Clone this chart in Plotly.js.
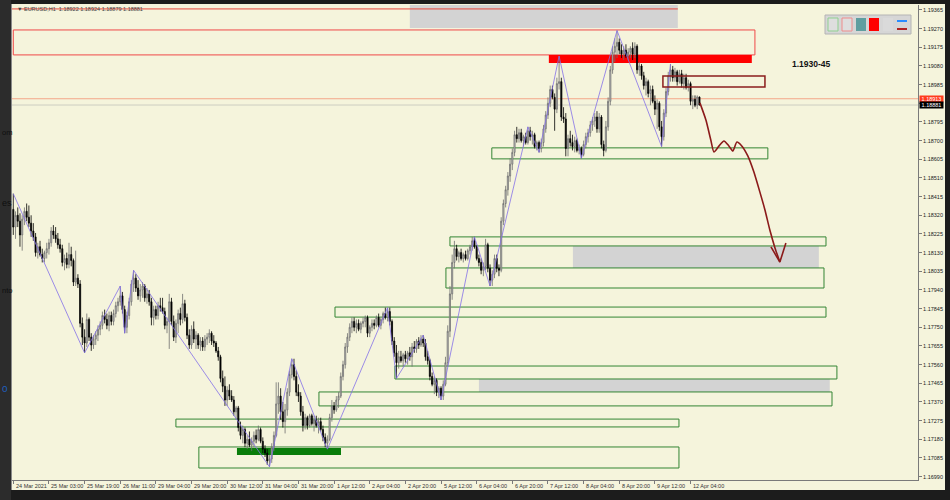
<!DOCTYPE html>
<html><head><meta charset="utf-8">
<script src="https://cdn.plot.ly/plotly-3.0.1.min.js"></script>
<style>html,body{margin:0;padding:0;background:#1c1c1c;}#chart{width:950px;height:500px;}</style>
</head><body><div id="chart"></div>
<script>
// ---- data (EURUSD H1) ----
const timeLabels = ["24 Mar 2021","25 Mar 03:00","25 Mar 19:00","26 Mar 11:00","29 Mar 04:00","29 Mar 20:00","30 Mar 12:00","31 Mar 04:00","31 Mar 20:00","1 Apr 12:00","2 Apr 04:00","2 Apr 20:00","5 Apr 12:00","6 Apr 04:00","6 Apr 20:00","7 Apr 12:00","8 Apr 04:00","8 Apr 20:00","9 Apr 12:00","12 Apr 04:00"];
const barsPerLabel = 16;
const priceTicks = [1.19365,1.19270,1.19175,1.19080,1.18985,1.18890,1.18795,1.18700,1.18605,1.18510,1.18415,1.18320,1.18225,1.18130,1.18035,1.17940,1.17845,1.17750,1.17655,1.17560,1.17465,1.17370,1.17275,1.17180,1.17085,1.16990];

const open = [
1.1835,1.1826,1.1832,1.1829,1.1822,1.1830,1.1834,1.1831,1.1828,1.1824,
1.1821,1.1813,1.1816,1.1812,1.1810,1.1813,1.1815,1.1818,1.1824,1.1822,
1.1820,1.1817,1.1815,1.1808,1.1810,1.1807,1.1812,1.1809,1.1798,1.1800,
1.1797,1.1777,1.1770,1.1767,1.1779,1.1770,1.1766,1.1769,1.1771,1.1774,
1.1776,1.1781,1.1779,1.1776,1.1781,1.1778,1.1782,1.1786,1.1788,1.1791,
1.1784,1.1775,1.1781,1.1788,1.1797,1.1800,1.1795,1.1791,1.1794,1.1796,
1.1790,1.1792,1.1788,1.1780,1.1784,1.1781,1.1786,1.1785,1.1783,1.1776,
1.1778,1.1788,1.1778,1.1770,1.1777,1.1782,1.1779,1.1787,1.1780,1.1771,
1.1766,1.1774,1.1769,1.1771,1.1766,1.1768,1.1765,1.1769,1.1770,1.1772,
1.1768,1.1767,1.1763,1.1760,1.1749,1.1745,1.1738,1.1743,1.1740,1.1738,
1.1732,1.1734,1.1724,1.1720,1.1723,1.1716,1.1718,1.1715,1.1717,1.1720,
1.1718,1.1723,1.1717,1.1713,1.1711,1.1707,1.1708,1.1714,1.1720,1.1736,
1.1740,1.1732,1.1727,1.1733,1.1742,1.1751,1.1756,1.1750,1.1742,1.1740,
1.1732,1.1725,1.1729,1.1725,1.1730,1.1726,1.1728,1.1725,1.1727,1.1723,
1.1719,1.1716,1.1718,1.1729,1.1735,1.1733,1.1738,1.1740,1.1750,1.1756,
1.1765,1.1770,1.1775,1.1778,1.1775,1.1777,1.1774,1.1777,1.1778,1.1780,
1.1772,1.1775,1.1777,1.1776,1.1780,1.1776,1.1779,1.1782,1.1780,1.1783,
1.1778,1.1768,1.1762,1.1757,1.1760,1.1758,1.1761,1.1759,1.1762,1.1760,
1.1765,1.1764,1.1768,1.1766,1.1769,1.1767,1.1760,1.1758,1.1750,1.1746,
1.1748,1.1742,1.1744,1.1740,1.1746,1.1757,1.1773,1.1792,1.1808,1.1815,
1.1811,1.1813,1.1810,1.1812,1.1810,1.1814,1.1816,1.1819,1.1816,1.1810,
1.1808,1.1804,1.1806,1.1817,1.1805,1.1799,1.1802,1.1810,1.1805,1.1804,
1.1829,1.1838,1.1845,1.1852,1.1858,1.1864,1.1873,1.1871,1.1874,1.1870,
1.1872,1.1869,1.1875,1.1872,1.1873,1.1867,1.1869,1.1866,1.1869,1.1876,
1.1883,1.1889,1.1896,1.1892,1.1886,1.1899,1.1900,1.1882,1.1881,1.1866,
1.1871,1.1869,1.1867,1.1870,1.1865,1.1866,1.1863,1.1868,1.1872,1.1874,
1.1878,1.1880,1.1882,1.1876,1.1882,1.1868,1.1865,1.1877,1.1890,1.1906,
1.1915,1.1918,1.1920,1.1916,1.1914,1.1916,1.1913,1.1915,1.1917,1.1914,
1.1918,1.1906,1.1908,1.1903,1.1898,1.1900,1.1894,1.1896,1.1890,1.1886,
1.1889,1.1877,1.1872,1.1884,1.1895,1.1903,1.1906,1.1902,1.1905,1.1900,
1.1904,1.1899,1.1902,1.1897,1.1899,1.1890,1.1891,1.1888,1.18922];

const high = [
1.1843,1.1834,1.1836,1.1833,1.1832,1.1836,1.1838,1.1837,1.1832,1.1828,
1.1823,1.1818,1.1819,1.1815,1.1814,1.1818,1.1820,1.1826,1.1827,1.1826,
1.1823,1.1820,1.1817,1.1812,1.1813,1.1818,1.1816,1.1810,1.1814,1.1802,
1.1799,1.1780,1.1774,1.1782,1.1780,1.1772,1.1771,1.1773,1.1776,1.1778,
1.1783,1.1784,1.1782,1.1783,1.1783,1.1784,1.1788,1.1790,1.1796,1.1793,
1.1786,1.1783,1.1790,1.1799,1.1804,1.1802,1.1799,1.1797,1.1798,1.1797,
1.1795,1.1794,1.1790,1.1786,1.1786,1.1788,1.1790,1.1790,1.1785,1.1780,
1.1792,1.1790,1.1781,1.1779,1.1784,1.1785,1.1792,1.1789,1.1782,1.1774,
1.1776,1.1778,1.1773,1.1772,1.1770,1.1770,1.1771,1.1772,1.1774,1.1773,
1.1771,1.1768,1.1765,1.1761,1.1753,1.1750,1.1745,1.1746,1.1743,1.1740,
1.1735,1.1735,1.1727,1.1725,1.1724,1.1720,1.1722,1.1719,1.1722,1.1723,
1.1725,1.1724,1.1719,1.1715,1.1713,1.1710,1.1716,1.1722,1.1747,1.1747,
1.1744,1.1737,1.1736,1.1744,1.1753,1.1759,1.1759,1.1753,1.1746,1.1742,
1.1735,1.1731,1.1730,1.1731,1.1731,1.1730,1.1730,1.1729,1.1729,1.1725,
1.1721,1.1720,1.1731,1.1738,1.1737,1.1740,1.1742,1.1752,1.1758,1.1767,
1.1772,1.1777,1.1780,1.1780,1.1779,1.1779,1.1778,1.1780,1.1781,1.1781,
1.1776,1.1779,1.1779,1.1781,1.1782,1.1780,1.1783,1.1785,1.1785,1.1785,
1.1779,1.1770,1.1766,1.1763,1.1763,1.1762,1.1763,1.1763,1.1765,1.1767,
1.1768,1.1769,1.1770,1.1771,1.1771,1.1769,1.1763,1.1759,1.1752,1.1750,
1.1749,1.1745,1.1745,1.1748,1.1760,1.1776,1.1796,1.1812,1.1819,1.1817,
1.1814,1.1815,1.1813,1.1814,1.1815,1.1817,1.1821,1.1821,1.1817,1.1812,
1.1810,1.1808,1.1820,1.1818,1.1807,1.1804,1.1812,1.1812,1.1807,1.1831,
1.1840,1.1847,1.1854,1.1861,1.1866,1.1875,1.1877,1.1876,1.1876,1.1873,
1.1874,1.1877,1.1877,1.1875,1.1874,1.1870,1.1870,1.1871,1.1878,1.1885,
1.1892,1.1898,1.1898,1.1894,1.1902,1.1913,1.1902,1.1887,1.1884,1.1873,
1.1875,1.1873,1.1872,1.1871,1.1868,1.1867,1.1870,1.1874,1.1876,1.1880,
1.1882,1.1884,1.1885,1.1884,1.1883,1.1870,1.1880,1.1892,1.1908,1.1918,
1.1922,1.1926,1.1922,1.1919,1.1918,1.1919,1.1917,1.1918,1.1920,1.1920,
1.1919,1.1910,1.1909,1.1905,1.1902,1.1901,1.1898,1.1898,1.1893,1.1891,
1.1890,1.1880,1.1886,1.1897,1.1905,1.1909,1.1908,1.1907,1.1906,1.1906,
1.1906,1.1904,1.1904,1.1901,1.1900,1.1893,1.1893,1.1893,1.18924];

const low = [
1.1822,1.1820,1.1826,1.1816,1.1814,1.1827,1.1829,1.1826,1.1821,1.1819,
1.1811,1.1810,1.1811,1.1808,1.1808,1.1810,1.1812,1.1816,1.1820,1.1818,
1.1815,1.1813,1.1806,1.1804,1.1805,1.1805,1.1806,1.1796,1.1796,1.1795,
1.1775,1.1766,1.1762,1.1765,1.1768,1.1763,1.1764,1.1766,1.1768,1.1771,
1.1774,1.1777,1.1774,1.1773,1.1776,1.1776,1.1780,1.1783,1.1786,1.1782,
1.1772,1.1772,1.1779,1.1786,1.1793,1.1793,1.1789,1.1788,1.1790,1.1788,
1.1787,1.1786,1.1776,1.1776,1.1779,1.1779,1.1783,1.1782,1.1774,1.1772,
1.1764,1.1776,1.1768,1.1767,1.1772,1.1776,1.1777,1.1778,1.1769,1.1764,
1.1764,1.1767,1.1764,1.1764,1.1763,1.1763,1.1763,1.1766,1.1767,1.1766,
1.1765,1.1762,1.1758,1.1747,1.1742,1.1735,1.1735,1.1738,1.1737,1.1730,
1.1728,1.1722,1.1718,1.1716,1.1714,1.1713,1.1714,1.1712,1.1714,1.1716,
1.1717,1.1716,1.1711,1.1709,1.1705,1.1704,1.1706,1.1712,1.1719,1.1731,
1.1728,1.1724,1.1721,1.1730,1.1740,1.1749,1.1748,1.1740,1.1737,1.1730,
1.1722,1.1723,1.1723,1.1724,1.1725,1.1722,1.1724,1.1721,1.1722,1.1717,
1.1714,1.1713,1.1717,1.1727,1.1731,1.1732,1.1734,1.1739,1.1748,1.1754,
1.1762,1.1768,1.1772,1.1773,1.1772,1.1773,1.1772,1.1775,1.1775,1.1770,
1.1770,1.1773,1.1774,1.1775,1.1775,1.1774,1.1777,1.1779,1.1778,1.1776,
1.1766,1.1760,1.1749,1.1754,1.1757,1.1755,1.1757,1.1756,1.1758,1.1755,
1.1762,1.1762,1.1764,1.1765,1.1765,1.1758,1.1756,1.1748,1.1745,1.1741,
1.1740,1.1739,1.1738,1.1738,1.1745,1.1755,1.1770,1.1789,1.1805,1.1809,
1.1808,1.1809,1.1808,1.1809,1.1809,1.1812,1.1814,1.1815,1.1809,1.1806,
1.1802,1.1801,1.1804,1.1803,1.1796,1.1796,1.1800,1.1803,1.1801,1.1803,
1.1827,1.1836,1.1842,1.1849,1.1855,1.1862,1.1869,1.1869,1.1869,1.1867,
1.1868,1.1868,1.1870,1.1868,1.1866,1.1865,1.1864,1.1864,1.1867,1.1874,
1.1881,1.1887,1.1891,1.1875,1.1884,1.1896,1.1880,1.1879,1.1862,1.1862,
1.1867,1.1865,1.1864,1.1864,1.1863,1.1861,1.1862,1.1866,1.1869,1.1872,
1.1875,1.1877,1.1874,1.1874,1.1866,1.1862,1.1864,1.1875,1.1888,1.1904,
1.1910,1.1912,1.1914,1.1912,1.1911,1.1912,1.1911,1.1912,1.1911,1.1912,
1.1904,1.1903,1.1901,1.1896,1.1893,1.1892,1.1888,1.1889,1.1883,1.1876,
1.1875,1.1867,1.1870,1.1882,1.1893,1.1900,1.1900,1.1900,1.1898,1.1899,
1.1897,1.1896,1.1896,1.1895,1.1888,1.1886,1.1887,1.1886,1.18879];

const close = [
1.1826,1.1832,1.1829,1.1822,1.1830,1.1834,1.1831,1.1828,1.1824,1.1821,
1.1813,1.1816,1.1812,1.1810,1.1813,1.1815,1.1818,1.1824,1.1822,1.1820,
1.1817,1.1815,1.1808,1.1810,1.1807,1.1812,1.1809,1.1798,1.1800,1.1797,
1.1777,1.1770,1.1767,1.1779,1.1770,1.1766,1.1769,1.1771,1.1774,1.1776,
1.1781,1.1779,1.1776,1.1781,1.1778,1.1782,1.1786,1.1788,1.1791,1.1784,
1.1775,1.1781,1.1788,1.1797,1.1800,1.1795,1.1791,1.1794,1.1796,1.1790,
1.1792,1.1788,1.1780,1.1784,1.1781,1.1786,1.1785,1.1783,1.1776,1.1778,
1.1788,1.1778,1.1770,1.1777,1.1782,1.1779,1.1787,1.1780,1.1771,1.1766,
1.1774,1.1769,1.1771,1.1766,1.1768,1.1765,1.1769,1.1770,1.1772,1.1768,
1.1767,1.1763,1.1760,1.1749,1.1745,1.1738,1.1743,1.1740,1.1738,1.1732,
1.1734,1.1724,1.1720,1.1723,1.1716,1.1718,1.1715,1.1717,1.1720,1.1718,
1.1723,1.1717,1.1713,1.1711,1.1707,1.1708,1.1714,1.1720,1.1736,1.1740,
1.1732,1.1727,1.1733,1.1742,1.1751,1.1756,1.1750,1.1742,1.1740,1.1732,
1.1725,1.1729,1.1725,1.1730,1.1726,1.1728,1.1725,1.1727,1.1723,1.1719,
1.1716,1.1718,1.1729,1.1735,1.1733,1.1738,1.1740,1.1750,1.1756,1.1765,
1.1770,1.1775,1.1778,1.1775,1.1777,1.1774,1.1777,1.1778,1.1780,1.1772,
1.1775,1.1777,1.1776,1.1780,1.1776,1.1779,1.1782,1.1780,1.1783,1.1778,
1.1768,1.1762,1.1757,1.1760,1.1758,1.1761,1.1759,1.1762,1.1760,1.1765,
1.1764,1.1768,1.1766,1.1769,1.1767,1.1760,1.1758,1.1750,1.1746,1.1748,
1.1742,1.1744,1.1740,1.1746,1.1757,1.1773,1.1792,1.1808,1.1815,1.1811,
1.1813,1.1810,1.1812,1.1810,1.1814,1.1816,1.1819,1.1816,1.1810,1.1808,
1.1804,1.1806,1.1817,1.1805,1.1799,1.1802,1.1810,1.1805,1.1804,1.1829,
1.1838,1.1845,1.1852,1.1858,1.1864,1.1873,1.1871,1.1874,1.1870,1.1872,
1.1869,1.1875,1.1872,1.1873,1.1867,1.1869,1.1866,1.1869,1.1876,1.1883,
1.1889,1.1896,1.1892,1.1886,1.1899,1.1900,1.1882,1.1881,1.1866,1.1871,
1.1869,1.1867,1.1870,1.1865,1.1866,1.1863,1.1868,1.1872,1.1874,1.1878,
1.1880,1.1882,1.1876,1.1882,1.1868,1.1865,1.1877,1.1890,1.1906,1.1915,
1.1918,1.1920,1.1916,1.1914,1.1916,1.1913,1.1915,1.1917,1.1914,1.1918,
1.1906,1.1908,1.1903,1.1898,1.1900,1.1894,1.1896,1.1890,1.1886,1.1889,
1.1877,1.1872,1.1884,1.1895,1.1903,1.1906,1.1902,1.1905,1.1900,1.1904,
1.1899,1.1902,1.1897,1.1899,1.1890,1.1891,1.1888,1.18922,1.18881];

// zigzag pivots (bar index, price)
const zigzagBar   = [0, 32, 48, 50, 54, 115, 125, 141, 168, 172, 184, 192, 207, 214, 231, 236, 245, 255, 271, 291, 295];
const zigzagPrice = [1.1843,1.1762,1.1796,1.1772,1.1804,1.1704,1.1759,1.1713,1.1785,1.1749,1.1771,1.1738,1.1821,1.1796,1.1877,1.1864,1.1913,1.1861,1.1926,1.1867,1.1909];

// hand-drawn projection arrow
const arrowBar   = [308.2,310.9,313.1,314.5,316.8,319.0,321.2,323.0,324.8,327.0,329.7,332.4,335.1,337.4,339.6,341.9,344.1];
const arrowPrice = [1.18892,1.18805,1.18703,1.18642,1.18673,1.18698,1.18673,1.18647,1.18693,1.18673,1.18622,1.18541,1.18439,1.18347,1.18245,1.18154,1.18082];
const arrowHeadBar = [340.1,344.1,346.8];
const arrowHeadPrice = [1.18159,1.18082,1.18179];

// zones: [fromBar, toBar, lowPrice, highPrice]
const greenZones = [
 [214.8,338.7,1.18607,1.18663],
 [196.0,364.8,1.18164,1.18210],
 [194.2,363.9,1.17950,1.18052],
 [144.4,364.8,1.17802,1.17853],
 [171.3,369.7,1.17487,1.17553],
 [137.2,367.5,1.17350,1.17421],
 [73.0,298.8,1.17243,1.17283],
 [83.3,298.8,1.17034,1.17141]];
const grayZones = [
 [178.0,298.3,1.19273,1.19450],
 [251.2,361.6,1.18052,1.18164],
 [209.0,366.5,1.17421,1.17487]];
const greenFill = [100.4,147.1,1.17100,1.17136];
const redOutline = [0,332.9,1.19136,1.19263];
const redFill = [240.4,331.5,1.19095,1.19136];
const darkRedBox = [291.6,337.4,1.18973,1.19029];
const topRedLevel = [-1,298.3,1.19370];
const askPrice = 1.18913, bidPrice = 1.18881;
const headerText = "▼ EURUSD,H1  1.18922 1.18924 1.18879 1.18881";
const noteText = "1.1930-45";

// ---- layout helpers (pixel -> paper) ----
const L=12, R=918, T=5, B=480;
const PX = px => (px - L) / (R - L);
const PY = py => (B - py) / (B - T);
const bars = close.map((_, i) => i);
const FONT = "Liberation Sans, Arial, sans-serif";

const shapes = [];
// background page strip at the left and chart window panel
shapes.push({type:'rect', xref:'paper', yref:'paper', x0:PX(0), x1:PX(11), y0:PY(500), y1:PY(0), fillcolor:'#2c2c2c', line:{width:0}, layer:'below'});
shapes.push({type:'rect', xref:'paper', yref:'paper', x0:PX(12), x1:PX(945), y0:PY(490), y1:PY(4), fillcolor:'#f5f4dc', line:{width:0}, layer:'below'});
shapes.push({type:'line', xref:'paper', yref:'paper', x0:PX(11.5), x1:PX(11.5), y0:PY(490), y1:PY(4), line:{color:'#8a8a8a', width:1}, layer:'below'});

grayZones.forEach(z => shapes.push({type:'rect', xref:'x', yref:'y', x0:z[0], x1:z[1], y0:z[2], y1:z[3], fillcolor:'#d3d3d3', line:{width:0}, layer:'below'}));
shapes.push({type:'line', xref:'x', yref:'y', x0:topRedLevel[0], x1:topRedLevel[1], y0:topRedLevel[2], y1:topRedLevel[2], line:{color:'#e8463c', width:1}, layer:'below'});
shapes.push({type:'rect', xref:'x', yref:'y', x0:redOutline[0], x1:redOutline[1], y0:redOutline[2], y1:redOutline[3], fillcolor:'rgba(0,0,0,0)', line:{color:'#f04848', width:1}, layer:'below'});
shapes.push({type:'rect', xref:'x', yref:'y', x0:redFill[0], x1:redFill[1], y0:redFill[2], y1:redFill[3], fillcolor:'#ff0000', line:{width:0}, layer:'below'});
shapes.push({type:'line', xref:'paper', yref:'y', x0:0, x1:1, y0:askPrice, y1:askPrice, line:{color:'#f3a68a', width:1}, layer:'below'});
shapes.push({type:'line', xref:'paper', yref:'y', x0:0, x1:1, y0:bidPrice, y1:bidPrice, line:{color:'#cdcdc2', width:1}, layer:'below'});
shapes.push({type:'rect', xref:'x', yref:'y', x0:greenFill[0], x1:greenFill[1], y0:greenFill[2], y1:greenFill[3], fillcolor:'#0a7d0a', line:{width:0}, layer:'below'});
greenZones.forEach(z => shapes.push({type:'rect', xref:'x', yref:'y', x0:z[0], x1:z[1], y0:z[2], y1:z[3], fillcolor:'rgba(0,0,0,0)', line:{color:'#338533', width:1}, layer:'below'}));
shapes.push({type:'rect', xref:'x', yref:'y', x0:darkRedBox[0], x1:darkRedBox[1], y0:darkRedBox[2], y1:darkRedBox[3], fillcolor:'rgba(0,0,0,0)', line:{color:'#8b1c1c', width:1.5}, layer:'above'});

// toolbar top right
shapes.push({type:'rect', xref:'paper', yref:'paper', x0:PX(825), x1:PX(911), y0:PY(34), y1:PY(15), fillcolor:'#d6d6d6', line:{color:'#b4b4b4', width:1}});
shapes.push({type:'rect', xref:'paper', yref:'paper', x0:PX(828), x1:PX(838), y0:PY(31), y1:PY(18), fillcolor:'#dedede', line:{color:'#8fd08f', width:1}});
shapes.push({type:'rect', xref:'paper', yref:'paper', x0:PX(842), x1:PX(852), y0:PY(31), y1:PY(18), fillcolor:'#dedede', line:{color:'#f08c8c', width:1}});
shapes.push({type:'rect', xref:'paper', yref:'paper', x0:PX(856), x1:PX(866), y0:PY(31), y1:PY(18), fillcolor:'#5f9ea0', line:{width:0}});
shapes.push({type:'rect', xref:'paper', yref:'paper', x0:PX(869), x1:PX(879), y0:PY(31), y1:PY(18), fillcolor:'#ff0000', line:{width:0}});
shapes.push({type:'rect', xref:'paper', yref:'paper', x0:PX(883), x1:PX(893), y0:PY(31), y1:PY(18), fillcolor:'#dadada', line:{width:0}});
shapes.push({type:'line', xref:'paper', yref:'paper', x0:PX(897), x1:PX(907), y0:PY(21), y1:PY(21), line:{color:'#2a8cff', width:2}});
shapes.push({type:'line', xref:'paper', yref:'paper', x0:PX(897), x1:PX(907), y0:PY(29), y1:PY(29), line:{color:'#b22222', width:2}});

const annotations = [];
timeLabels.forEach((t, i) => annotations.push({xref:'x', yref:'paper', x:i*barsPerLabel, y:0, xanchor:'left', yanchor:'top', xshift:0.5, yshift:-1, text:t, showarrow:false, font:{family:FONT, size:5.5, color:'#333'}}));
annotations.push({xref:'paper', yref:'paper', x:PX(15), y:PY(9), xanchor:'left', yanchor:'middle', text:headerText, showarrow:false, font:{family:FONT, size:5.5, color:'#444'}});
annotations.push({xref:'paper', yref:'paper', x:PX(790), y:PY(64), xanchor:'left', yanchor:'middle', text:'<b>'+noteText+'</b>', showarrow:false, font:{family:FONT, size:8.5, color:'#111'}});
annotations.push({xref:'paper', yref:'y', x:1, y:askPrice, xanchor:'left', yanchor:'middle', xshift:1, text:askPrice.toFixed(5), showarrow:false, bgcolor:'#ff3b1f', borderpad:0, width:23, height:6, font:{family:FONT, size:5.5, color:'#fff'}});
annotations.push({xref:'paper', yref:'y', x:1, y:bidPrice, xanchor:'left', yanchor:'middle', xshift:1, text:bidPrice.toFixed(5), showarrow:false, bgcolor:'#000', borderpad:0, width:23, height:6, font:{family:FONT, size:5.5, color:'#fff'}});
// fragments of the page behind the chart window (left strip)
[["om",132,7.5,'#0e0e0e'],["es",203,9,'#0e0e0e'],["nto",290,7.5,'#0e0e0e'],["o",388,10,'#1f5fbf']].forEach(a => annotations.push({xref:'paper', yref:'paper', x:PX(0.5), y:PY(a[1]), xanchor:'left', yanchor:'middle', text:a[0], showarrow:false, borderpad:0, font:{family:FONT, size:a[2], color:a[3]}}));

const traces = [
 {type:'candlestick', x:bars, open:open, high:high, low:low, close:close,
  increasing:{line:{color:'#6f6f6f', width:0.8}, fillcolor:'#d0d0d0'},
  decreasing:{line:{color:'#000', width:0.8}, fillcolor:'#000'},
  whiskerwidth:0, hoverinfo:'skip'},
 {type:'scatter', mode:'lines', x:zigzagBar, y:zigzagPrice, line:{color:'#8470e8', width:0.8}, hoverinfo:'skip'},
 {type:'scatter', mode:'lines', x:arrowBar, y:arrowPrice, line:{color:'#8b1a1a', width:1.6, shape:'spline', smoothing:0.6}, hoverinfo:'skip'},
 {type:'scatter', mode:'lines', x:arrowHeadBar, y:arrowHeadPrice, line:{color:'#8b1a1a', width:1.6}, hoverinfo:'skip'}
];

const layout = {
 width:950, height:500,
 margin:{l:12, r:32, t:5, b:20, pad:0},
 paper_bgcolor:'#1c1c1c', plot_bgcolor:'#f5f4dc',
 showlegend:false,
 xaxis:{range:[-0.58,406.1], showgrid:false, zeroline:false, showline:true, linecolor:'#7a7a7a', linewidth:1,
        ticks:'outside', ticklen:3, tickcolor:'#7a7a7a', tickvals:timeLabels.map((_, i) => i*barsPerLabel),
        showticklabels:false, rangeslider:{visible:false}, fixedrange:true},
 yaxis:{range:[1.16973,1.19390], side:'right', showgrid:false, zeroline:false, showline:true, linecolor:'#7a7a7a', linewidth:1,
        ticks:'outside', ticklen:3, tickcolor:'#7a7a7a', tickvals:priceTicks, tickformat:'.5f',
        tickfont:{family:FONT, size:5.5, color:'#222'}, fixedrange:true},
 shapes:shapes, annotations:annotations
};
Plotly.newPlot('chart', traces, layout, {staticPlot:true, displayModeBar:false});
</script></body></html>
